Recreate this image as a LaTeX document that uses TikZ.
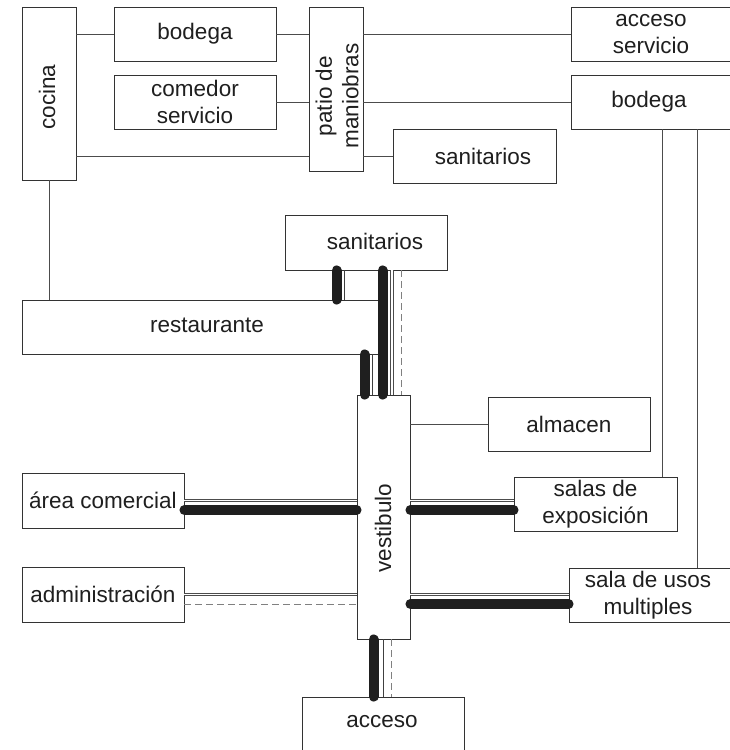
\documentclass[tikz,border=0pt]{standalone}
\usepackage{fontspec}
\setmainfont{Liberation Sans}
\usetikzlibrary{calc}
\begin{document}
\begin{tikzpicture}[x=1pt,y=-1pt,
  every node/.style={font=\fontsize{22.5}{26.5}\selectfont, text=black!88},
  room/.style={draw=black!80, line width=0.9pt, inner sep=0pt, align=center, fill=white},
  bar/.style={line width=10pt, line cap=round, draw=black!88},
  link/.style={draw=black!70, line width=0.9pt, double=white, double distance=1.5pt},
  plain/.style={draw=black!75, line width=0.8pt},
  loose/.style={draw=black!50, line width=0.9pt, dash pattern=on 7pt off 4pt},
  wire/.style={draw=black!70, line width=0.8pt}]
\useasboundingbox (0,0) rectangle (730,750);
\clip (0,0) rectangle (730,750);

% service wing
\node[room, minimum width=54pt, minimum height=173pt] (cocina) at (49,93.5) {};
\node[rotate=90] at (47,97) {cocina};
\node[room, minimum width=162pt, minimum height=54pt] (bodegaA) at (195,34) {bodega};
\node[room, minimum width=162pt, minimum height=54pt] (comedor) at (195,102) {comedor\\servicio};
\node[room, minimum width=54pt, minimum height=164pt] (patio) at (336,89) {};
\node[rotate=90, align=center] at (337,96) {patio de\\maniobras};
\node[room, minimum width=164pt, minimum height=54pt] (accserv) at (653,34) {};
\node[align=center] at (651,34) {acceso\\servicio};
\node[room, minimum width=164pt, minimum height=54pt] (bodegaB) at (653,102) {};
\node at (649,102) {bodega};
\node[room, minimum width=163pt, minimum height=54pt] (sanitA) at (474.5,156) {};
\node at (483,156) {sanitarios};

% public wing
\node[room, minimum width=162pt, minimum height=55pt] (sanitB) at (366,242.5) {};
\node at (375,241) {sanitarios};
\node[room, minimum width=356pt, minimum height=54pt] (restaurante) at (200,327) {};
\node at (207,325) {restaurante};
\node[room, minimum width=53pt, minimum height=244pt] (vest) at (383.5,517) {};
\node[rotate=90] at (383,528) {vestibulo};
\node[room, minimum width=162pt, minimum height=54pt] (almacen) at (569,424) {almacen};
\node[room, minimum width=163pt, minimum height=54pt, align=center] (salas) at (595.5,504) {salas de\\exposición};
\node[room, minimum width=166pt, minimum height=54pt] (usos) at (652,595) {};
\node[align=center] at (648,595) {sala de usos\\multiples};
\node[room, minimum width=162pt, minimum height=55pt] (areacom) at (103,500.5) {área comercial};
\node[room, minimum width=162pt, minimum height=55pt] (admin) at (103,594.5) {administración};
\node[room, minimum width=162pt, minimum height=56pt] (acceso) at (383,725) {};
\node at (382,722) {acceso};

% anchor points along the box edges
\coordinate (c156) at ($(patio.south west)+(0,-15)$);
\coordinate (b663) at ($(bodegaB.south west)+(92,0)$);
\coordinate (b698) at ($(bodegaB.south west)+(127,0)$);
\coordinate (sr1) at ($(sanitB.south west)+(52,0)$);
\coordinate (sr2) at ($(sanitB.south west)+(60,0)$);
\coordinate (sv1) at ($(vest.north west)+(26,0)$);
\coordinate (sv2) at ($(vest.north west)+(35.5,0)$);
\coordinate (sv3) at ($(vest.north west)+(45,0)$);
\coordinate (rv1) at ($(vest.north west)+(8,0)$);
\coordinate (rv2) at ($(vest.north west)+(16,0)$);
\coordinate (va1) at ($(vest.south west)+(17,0)$);
\coordinate (va2) at ($(vest.south west)+(27,0)$);
\coordinate (va3) at ($(vest.south west)+(35,0)$);
\coordinate (y501) at (0,500.5);
\coordinate (y510) at (0,510);
\coordinate (y595) at (0,594.5);
\coordinate (y604) at (0,604);

% service links
\draw[wire] (cocina.east |- bodegaA.west) -- (bodegaA.west);
\draw[wire] (bodegaA.east) -- (patio.west |- bodegaA.east);
\draw[wire] (comedor.east) -- (patio.west |- comedor.east);
\draw[wire] (cocina.east |- c156) -- (c156);
\draw[wire] (patio.east |- accserv.west) -- (accserv.west);
\draw[wire] (patio.east |- bodegaB.west) -- (bodegaB.west);
\draw[wire] (patio.east |- sanitA.west) -- (sanitA.west);
\draw[wire] (cocina.south) -- (cocina.south |- restaurante.north);
\draw[wire] (b663) -- (b663 |- salas.north);
\draw[wire] (b698) -- (b698 |- usos.north);
\draw[wire] (vest.east |- almacen.west) -- (almacen.west);

% sanitarios to restaurante
\draw[plain] (sr2) -- (sr2 |- restaurante.north);
\draw[bar] (sr1) -- (sr1 |- restaurante.north);

% sanitarios to vestibulo
\draw[loose] (sv3 |- sanitB.south) -- (sv3);
\draw[link] (sv2 |- sanitB.south) -- (sv2);
\draw[bar] (sv1 |- sanitB.south) -- (sv1);

% restaurante to vestibulo
\draw[plain] (rv2 |- restaurante.south) -- (rv2);
\draw[bar] (rv1 |- restaurante.south) -- (rv1);

% vestibulo, west side
\draw[link] (areacom.east |- y501) -- (vest.west |- y501);
\draw[bar] (areacom.east |- y510) -- (vest.west |- y510);
\draw[link] (admin.east |- y595) -- (vest.west |- y595);
\draw[loose] (admin.east |- y604) -- (vest.west |- y604);

% vestibulo, east side
\draw[link] (vest.east |- y501) -- (salas.west |- y501);
\draw[bar] (vest.east |- y510) -- (salas.west |- y510);
\draw[link] (vest.east |- y595) -- (usos.west |- y595);
\draw[bar] (vest.east |- y604) -- (usos.west |- y604);

% vestibulo to acceso
\draw[loose] (va3) -- (va3 |- acceso.north);
\draw[plain] (va2) -- (va2 |- acceso.north);
\draw[bar] (va1) -- (va1 |- acceso.north);
\end{tikzpicture}
\end{document}
